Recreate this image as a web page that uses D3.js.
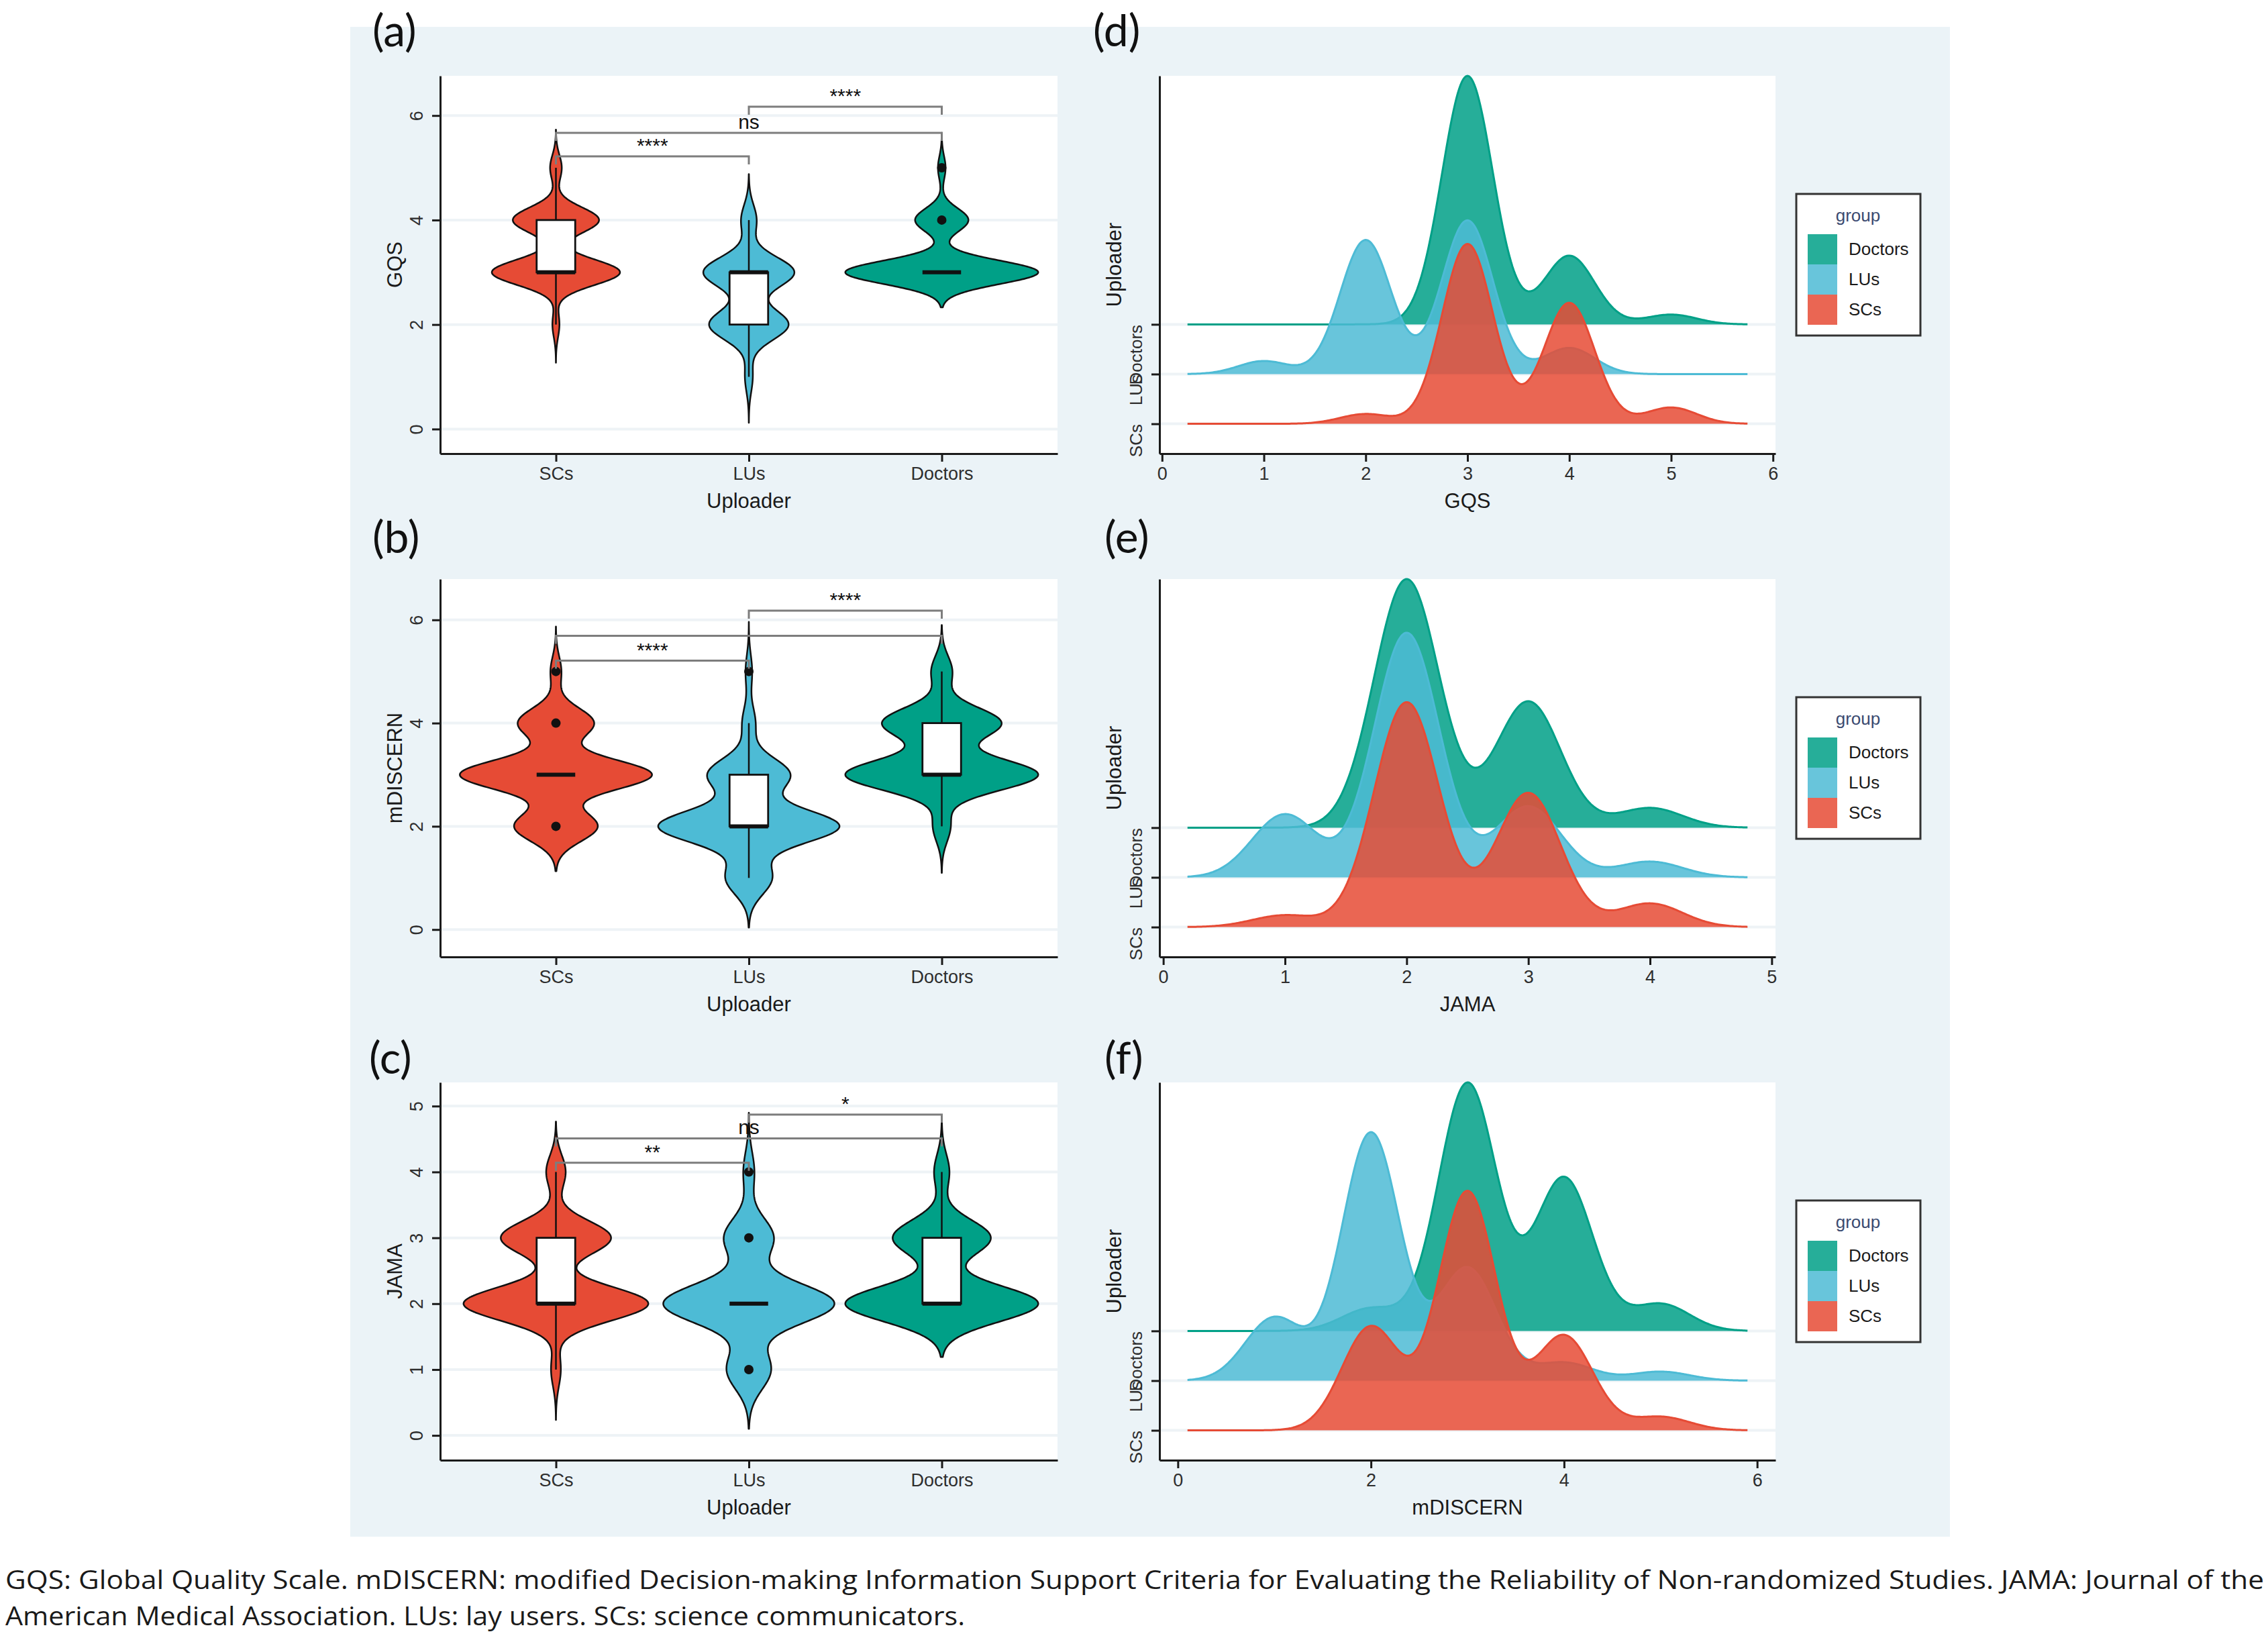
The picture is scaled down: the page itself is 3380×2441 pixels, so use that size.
<!DOCTYPE html>
<html><head><meta charset="utf-8">
<script src="https://cdn.jsdelivr.net/npm/d3@7"></script>
<style>body{margin:0;background:#fff}</style>
</head><body>
<svg id="chart" width="3380" height="2441" xmlns="http://www.w3.org/2000/svg"></svg>
<script>
// ---------------- DATA ----------------
const groups = ["SCs", "LUs", "Doctors"];
const groupColors = ["#E64B35", "#4DBBD5", "#00A087"];

// counts of videos per score (per 100 videos of each uploader group)
const gqsScores = [1, 2, 3, 4, 5];
const gqsCountsSCs = [0, 3, 55, 37, 5];
const gqsCountsLUs = [4, 41, 47, 8, 0];
const gqsCountsDoctors = [0, 0, 76, 21, 3];

const mdiscernScores = [1, 2, 3, 4, 5];
const mdiscernCountsSCs = [0, 23, 53, 21, 3];
const mdiscernCountsLUs = [14, 55, 25, 4, 2];
const mdiscernCountsDoctors = [0, 5, 55, 34, 6];

const jamaScores = [1, 2, 3, 4];
const jamaCountsSCs = [3, 57, 34, 6];
const jamaCountsLUs = [16, 62, 18, 4];
const jamaCountsDoctors = [0, 63, 32, 5];

// kernel bandwidths (violins: per group SCs, LUs, Doctors; ridges: joint)
const gqsViolinBw = [0.243, 0.293, 0.223];
const mdiscernViolinBw = [0.29, 0.32, 0.30];
const jamaViolinBw = [0.255, 0.30, 0.27];
const gqsRidgeBw = 0.25;
const jamaRidgeBw = 0.267;
const mdiscernRidgeBw = 0.30;

// y axes of violin panels
const gqsYDomain = [-0.47, 6.76];
const gqsYTicks = [0, 2, 4, 6];
const mdiscernYDomain = [-0.53, 6.79];
const mdiscernYTicks = [0, 2, 4, 6];
const jamaYDomain = [-0.376, 5.36];
const jamaYTicks = [0, 1, 2, 3, 4, 5];

// significance brackets: pairs (group indices), heights, labels
const bracketPairs = [[0, 1], [0, 2], [1, 2]];
const gqsBracketY = [5.22, 5.67, 6.17];
const gqsBracketLabels = ["****", "ns", "****"];
const mdiscernBracketY = [5.21, 5.69, 6.18];
const mdiscernBracketLabels = ["****", "", "****"];
const jamaBracketY = [4.14, 4.51, 4.87];
const jamaBracketLabels = ["**", "ns", "*"];

// ridge x tick labels
const gqsRidgeTicks = [0, 1, 2, 3, 4, 5, 6];
const jamaRidgeTicks = [0, 1, 2, 3, 4, 5];
const mdiscernRidgeTicks = [0, 2, 4, 6];

const panelLetters = ["(a)", "(b)", "(c)", "(d)", "(e)", "(f)"];
const legendTitle = "group";
const captionLines = [
  "GQS: Global Quality Scale. mDISCERN: modified Decision-making Information Support Criteria for Evaluating the Reliability of Non-randomized Studies. JAMA: Journal of the",
  "American Medical Association. LUs: lay users. SCs: science communicators."
];

// ---------------- LAYOUT ----------------
const FONT = "'Liberation Sans', Arial, Helvetica, sans-serif";
const rowTops = [113, 863, 1613];
const panelH = 563;
const violinX = [656, 1576];
const ridgeX = [1728, 2646];
const ridgeScale = 5;
const fillAlpha = 0.85;
const intFmt = d3.format("d");

const svg = d3.select("#chart");
svg.append("rect").attr("width", 3380).attr("height", 2441).attr("fill", "#ffffff");
svg.append("rect").attr("x", 522).attr("y", 40).attr("width", 2384).attr("height", 2250).attr("fill", "#ebf3f7");

function kde(scores, counts, bw, xs) {
  const n = d3.sum(counts);
  const c = 1 / (bw * Math.sqrt(2 * Math.PI));
  return xs.map(x => [x, d3.sum(scores, (s, i) => counts[i] / n * c * Math.exp(-0.5 * ((x - s) / bw) ** 2))]);
}

function boxStats(scores, counts) {
  const sample = [];
  scores.forEach((s, i) => { for (let k = 0; k < counts[i]; k++) sample.push(s); });
  sample.sort(d3.ascending);
  const q1 = d3.quantile(sample, 0.25), med = d3.quantile(sample, 0.5), q3 = d3.quantile(sample, 0.75);
  const iqr = q3 - q1, lo = q1 - 1.5 * iqr, hi = q3 + 1.5 * iqr;
  const inside = sample.filter(v => v >= lo && v <= hi);
  return {
    q1, med, q3, lw: d3.min(inside), uw: d3.max(inside),
    outliers: Array.from(new Set(sample.filter(v => v < lo || v > hi)))
  };
}

function styleAxis(g, fontSize) {
  g.select(".domain").attr("stroke", "#1a1a1a").attr("stroke-width", 3);
  g.selectAll(".tick line").attr("stroke", "#1a1a1a").attr("stroke-width", 3);
  g.selectAll(".tick text").attr("font-family", FONT).attr("font-size", fontSize).attr("fill", "#2e2e2e");
}

function drawViolinPanel(cfg) {
  const top = rowTops[cfg.row], bottom = top + panelH;
  const g = svg.append("g");
  g.append("rect").attr("x", violinX[0]).attr("y", top).attr("width", violinX[1] - violinX[0]).attr("height", panelH).attr("fill", "#fff");
  const x = d3.scalePoint().domain(groups).range(violinX).padding(0.6);
  const y = d3.scaleLinear().domain(cfg.domain).range([bottom, top]);
  const step = x.step();
  g.selectAll(".grid").data(cfg.ticks).join("line")
    .attr("x1", violinX[0]).attr("x2", violinX[1]).attr("y1", d => y(d)).attr("y2", d => y(d))
    .attr("stroke", "#eef3f6").attr("stroke-width", 4);
  const dens = cfg.counts.map((c, gi) => {
    const present = cfg.scores.filter((s, i) => c[i] > 0);
    const lo = d3.min(present) - 3 * cfg.bw[gi], hi = d3.max(present) + 3 * cfg.bw[gi];
    const xs = d3.range(0, 301).map(i => lo + (hi - lo) * i / 300);
    return kde(cfg.scores, c, cfg.bw[gi], xs);
  });
  const maxD = d3.max(dens, d => d3.max(d, p => p[1]));
  const w = d3.scaleLinear().domain([0, maxD]).range([0, step * 0.5]);
  dens.forEach((d, gi) => {
    const cx = x(groups[gi]);
    const area = d3.area().y(p => y(p[0])).x0(p => cx - w(p[1])).x1(p => cx + w(p[1]));
    g.append("path").attr("d", area(d)).attr("fill", groupColors[gi])
      .attr("stroke", "#111").attr("stroke-width", 2.5).attr("stroke-linejoin", "round");
  });
  const bw = step * 0.2;
  cfg.counts.forEach((c, gi) => {
    const s = boxStats(cfg.scores, c);
    const cx = x(groups[gi]);
    g.append("line").attr("x1", cx).attr("x2", cx).attr("y1", y(s.lw)).attr("y2", y(s.uw))
      .attr("stroke", "#111").attr("stroke-width", 2.5);
    g.append("rect").attr("x", cx - bw / 2).attr("width", bw).attr("y", y(s.q3)).attr("height", Math.max(0, y(s.q1) - y(s.q3)))
      .attr("fill", "#fff").attr("stroke", "#111").attr("stroke-width", 2.8);
    g.append("line").attr("x1", cx - bw / 2).attr("x2", cx + bw / 2).attr("y1", y(s.med)).attr("y2", y(s.med))
      .attr("stroke", "#111").attr("stroke-width", 6);
    g.selectAll(null).data(s.outliers).join("circle")
      .attr("cx", cx).attr("cy", v => y(v)).attr("r", 7).attr("fill", "#111");
  });
  bracketPairs.forEach((pr, bi) => {
    const x1 = x(groups[pr[0]]), x2 = x(groups[pr[1]]), yy = y(cfg.brY[bi]);
    g.append("path").attr("d", `M${x1},${yy + 12}V${yy}H${x2}V${yy + 12}`)
      .attr("fill", "none").attr("stroke", "#7d7d7d").attr("stroke-width", 3);
    if (cfg.brL[bi]) g.append("text").attr("x", (x1 + x2) / 2).attr("y", yy - 6)
      .attr("text-anchor", "middle").attr("font-family", FONT).attr("font-size", 30)
      .attr("fill", "#111").text(cfg.brL[bi]);
  });
  const ay = g.append("g").attr("transform", `translate(${violinX[0]},0)`)
    .call(d3.axisLeft(y).tickValues(cfg.ticks).tickFormat(intFmt).tickSize(12).tickSizeOuter(0));
  styleAxis(ay, 27);
  ay.selectAll(".tick text").attr("transform", "rotate(-90)").attr("x", 0).attr("y", -35)
    .attr("dy", "0").attr("dominant-baseline", "central").attr("text-anchor", "middle");
  const ax = g.append("g").attr("transform", `translate(0,${bottom})`)
    .call(d3.axisBottom(x).tickSize(12).tickSizeOuter(0));
  styleAxis(ax, 27);
  ax.selectAll(".tick text").attr("y", 30).attr("dy", "0").attr("dominant-baseline", "central");
  g.append("text").attr("x", (violinX[0] + violinX[1]) / 2).attr("y", bottom + 70)
    .attr("text-anchor", "middle").attr("dominant-baseline", "central")
    .attr("font-family", FONT).attr("font-size", 31).attr("fill", "#1a1a1a").text("Uploader");
  g.append("text").attr("transform", `translate(588,${(top + bottom) / 2}) rotate(-90)`)
    .attr("text-anchor", "middle").attr("dominant-baseline", "central")
    .attr("font-family", FONT).attr("font-size", 31).attr("fill", "#1a1a1a").text(cfg.title);
}

function drawRidgePanel(cfg) {
  const top = rowTops[cfg.row], bottom = top + panelH;
  const g = svg.append("g");
  g.append("rect").attr("x", ridgeX[0]).attr("y", top).attr("width", ridgeX[1] - ridgeX[0]).attr("height", panelH).attr("fill", "#fff");
  const present = cfg.scores.filter((s, i) => cfg.counts.some(c => c[i] > 0));
  const lo = d3.min(present) - 3 * cfg.bw, hi = d3.max(present) + 3 * cfg.bw;
  const pad = (hi - lo) * 0.05;
  const x = d3.scaleLinear().domain([lo - pad, hi + pad]).range(ridgeX);
  const y = d3.scaleLinear().domain([0.4, 3 + ridgeScale]).range([bottom, top]);
  const xs = d3.range(0, 401).map(i => lo + (hi - lo) * i / 400);
  const dens = cfg.counts.map(c => kde(cfg.scores, c, cfg.bw, xs));
  const maxD = d3.max(dens, d => d3.max(d, p => p[1]));
  g.selectAll(".grid").data([1, 2, 3]).join("line")
    .attr("x1", ridgeX[0]).attr("x2", ridgeX[1]).attr("y1", d => y(d)).attr("y2", d => y(d))
    .attr("stroke", "#eef3f6").attr("stroke-width", 4);
  [2, 1, 0].forEach(gi => {
    const base = gi + 1;
    const d = dens[gi];
    const area = d3.area().x(p => x(p[0])).y0(y(base)).y1(p => y(base + p[1] / maxD * ridgeScale));
    const line = d3.line().x(p => x(p[0])).y(p => y(base + p[1] / maxD * ridgeScale));
    g.append("path").attr("d", area(d)).attr("fill", groupColors[gi]).attr("fill-opacity", fillAlpha);
    g.append("path").attr("d", line(d)).attr("fill", "none").attr("stroke", groupColors[gi]).attr("stroke-width", 3);
  });
  const ay = g.append("g").attr("transform", `translate(${ridgeX[0]},0)`)
    .call(d3.axisLeft(y).tickValues([1, 2, 3]).tickFormat(v => groups[v - 1]).tickSize(12).tickSizeOuter(0));
  styleAxis(ay, 26);
  ay.selectAll(".tick text").attr("transform", "rotate(-90)").attr("x", 0).attr("y", -35)
    .attr("dy", "0").attr("dominant-baseline", "central").attr("text-anchor", "end");
  const ax = g.append("g").attr("transform", `translate(0,${bottom})`)
    .call(d3.axisBottom(x).tickValues(cfg.ticks).tickFormat(intFmt).tickSize(12).tickSizeOuter(0));
  styleAxis(ax, 27);
  ax.selectAll(".tick text").attr("y", 30).attr("dy", "0").attr("dominant-baseline", "central");
  g.append("text").attr("x", (ridgeX[0] + ridgeX[1]) / 2).attr("y", bottom + 70)
    .attr("text-anchor", "middle").attr("dominant-baseline", "central")
    .attr("font-family", FONT).attr("font-size", 31).attr("fill", "#1a1a1a").text(cfg.title);
  g.append("text").attr("transform", `translate(1660,${(top + bottom) / 2}) rotate(-90)`)
    .attr("text-anchor", "middle").attr("dominant-baseline", "central")
    .attr("font-family", FONT).attr("font-size", 31).attr("fill", "#1a1a1a").text("Uploader");
  const lg = g.append("g").attr("transform", `translate(2677,${top + 176})`);
  lg.append("rect").attr("width", 185).attr("height", 211).attr("fill", "#fff").attr("stroke", "#333").attr("stroke-width", 3);
  lg.append("text").attr("x", 92).attr("y", 41).attr("text-anchor", "middle")
    .attr("font-family", FONT).attr("font-size", 26).attr("fill", "#3a4a70").text(legendTitle);
  [2, 1, 0].forEach((gi, k) => {
    lg.append("rect").attr("x", 17).attr("y", 60 + k * 45).attr("width", 44).attr("height", 45)
      .attr("fill", groupColors[gi]).attr("fill-opacity", fillAlpha);
    lg.append("text").attr("x", 78).attr("y", 82 + k * 45).attr("dominant-baseline", "central")
      .attr("font-family", FONT).attr("font-size", 26).attr("fill", "#1a1a1a").text(groups[gi]);
  });
}

drawViolinPanel({ row: 0, scores: gqsScores, counts: [gqsCountsSCs, gqsCountsLUs, gqsCountsDoctors], bw: gqsViolinBw,
  domain: gqsYDomain, ticks: gqsYTicks, brY: gqsBracketY, brL: gqsBracketLabels, title: "GQS" });
drawViolinPanel({ row: 1, scores: mdiscernScores, counts: [mdiscernCountsSCs, mdiscernCountsLUs, mdiscernCountsDoctors], bw: mdiscernViolinBw,
  domain: mdiscernYDomain, ticks: mdiscernYTicks, brY: mdiscernBracketY, brL: mdiscernBracketLabels, title: "mDISCERN" });
drawViolinPanel({ row: 2, scores: jamaScores, counts: [jamaCountsSCs, jamaCountsLUs, jamaCountsDoctors], bw: jamaViolinBw,
  domain: jamaYDomain, ticks: jamaYTicks, brY: jamaBracketY, brL: jamaBracketLabels, title: "JAMA" });

drawRidgePanel({ row: 0, scores: gqsScores, counts: [gqsCountsSCs, gqsCountsLUs, gqsCountsDoctors], bw: gqsRidgeBw, ticks: gqsRidgeTicks, title: "GQS" });
drawRidgePanel({ row: 1, scores: jamaScores, counts: [jamaCountsSCs, jamaCountsLUs, jamaCountsDoctors], bw: jamaRidgeBw, ticks: jamaRidgeTicks, title: "JAMA" });
drawRidgePanel({ row: 2, scores: mdiscernScores, counts: [mdiscernCountsSCs, mdiscernCountsLUs, mdiscernCountsDoctors], bw: mdiscernRidgeBw, ticks: mdiscernRidgeTicks, title: "mDISCERN" });

const letterPos = [[555, 69], [555, 824], [550, 1600], [1629, 69], [1646, 824], [1646, 1600]];
panelLetters.forEach((t, i) => {
  svg.append("text").attr("x", letterPos[i][0]).attr("y", letterPos[i][1])
    .attr("font-family", "Lato, 'Open Sans', sans-serif").attr("font-size", 66).attr("fill", "#111").text(t);
});

const capLen = [3366, 1430];
captionLines.forEach((t, i) => {
  svg.append("text").attr("x", 8).attr("y", 2368 + i * 54)
    .attr("font-family", "'Open Sans', 'Liberation Sans', sans-serif")
    .attr("font-weight", 400)
    .attr("font-size", 39).attr("fill", "#1a1a1a")
    .attr("textLength", capLen[i]).attr("lengthAdjust", "spacingAndGlyphs").text(t);
});
</script>
</body></html>
